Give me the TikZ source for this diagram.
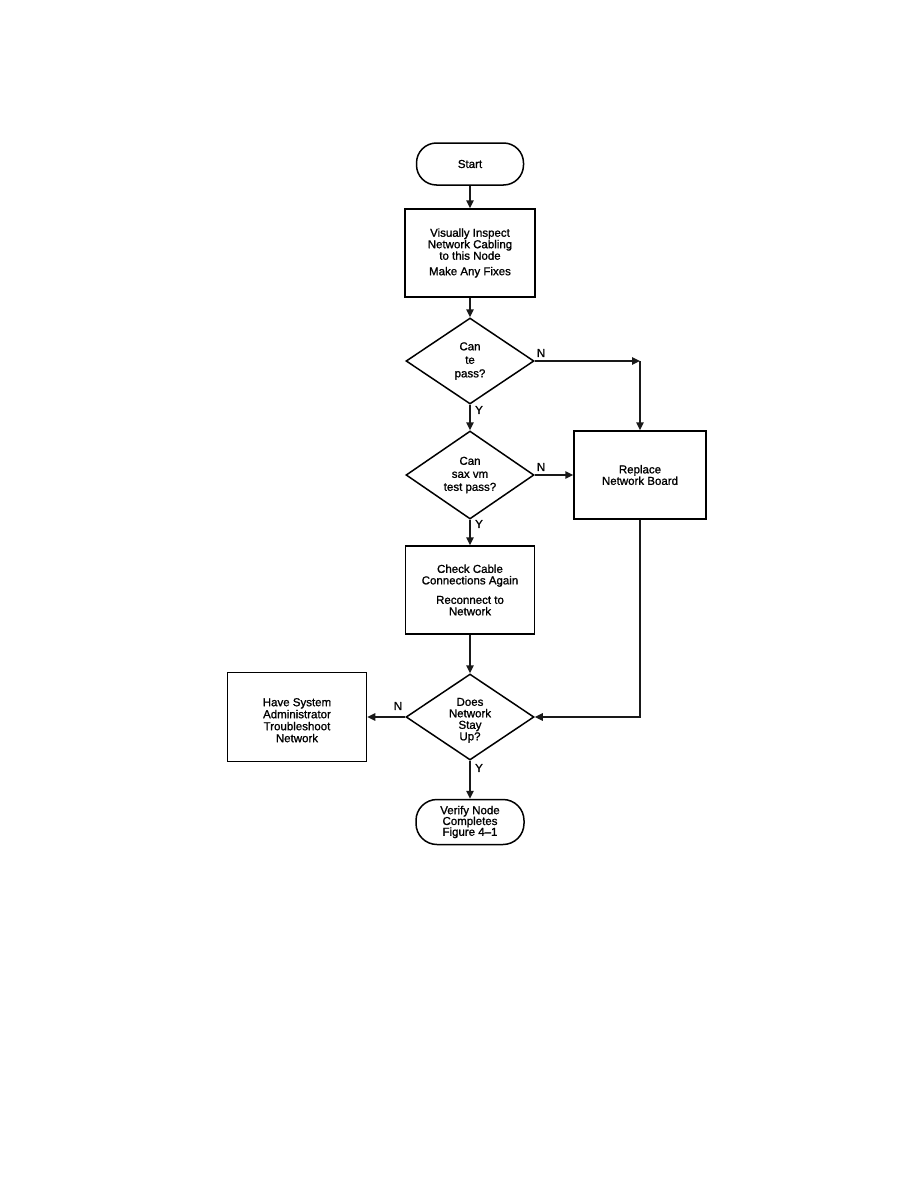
\documentclass[tikz,border=0pt]{standalone}
\usepackage{fontspec}
\setmainfont{Liberation Sans}[BoldFont={Liberation Sans},BoldFeatures={FakeBold=1.2}]
\usetikzlibrary{shapes.geometric,arrows.meta}
\newcommand{\pushdown}{\rule{0pt}{14.5pt}}
\begin{document}
\begin{tikzpicture}[x=1pt,y=-1pt,
  every node/.style={font=\fontsize{11.5}{11.5}\selectfont\bfseries, align=center},
  line/.style={line width=1.5pt, draw=black!90},
  arr/.style={line, -{Triangle[length=8pt,width=7.5pt]}},
  term/.style={draw, line width=1.5pt, rectangle, rounded corners=20pt, inner sep=0pt},
  proc/.style={draw, line width=1.5pt, rectangle, inner sep=0pt},
  dec/.style={draw, line width=1.5pt, diamond, aspect=1.5, inner sep=0pt},
  lbl/.style={font=\fontsize{11.5}{12}\selectfont\bfseries}]
\useasboundingbox (0,0) rectangle (918,1188);

\node[term, minimum width=107pt, minimum height=42pt] (start) at (470,164) {Start};
\node[proc, minimum width=130pt, minimum height=88pt] (inspect) at (470,253)
  {Visually Inspect\\Network Cabling\\to this Node\\[4pt]Make Any Fixes};
\node[dec, minimum width=128pt, minimum height=86pt, font=\fontsize{11.5}{13.5}\selectfont\bfseries] (d1) at (470,361) {Can\\te\\pass?};
\node[dec, minimum width=128pt, minimum height=88pt, font=\fontsize{11.5}{13}\selectfont\bfseries] (d2) at (470,475) {Can\\sax vm\\test pass?};
\node[proc, minimum width=132pt, minimum height=88pt] (replace) at (640,475)
  {Replace\\Network Board};
\node[proc, minimum width=129pt, minimum height=88pt] (check) at (470,590)
  {Check Cable\\Connections Again\\[8pt]Reconnect to\\Network};
\node[dec, minimum width=128pt, minimum height=86pt] (d3) at (470,717) {\pushdown Does\\Network\\Stay\\Up?};
\node[proc, minimum width=139pt, minimum height=89pt, font=\fontsize{11.5}{12}\selectfont\bfseries] (admin) at (297,717)
  {\pushdown Have System\\Administrator\\Troubleshoot\\Network};
\node[term, minimum width=108pt, minimum height=45pt, rounded corners=21pt, font=\fontsize{11.5}{10.8}\selectfont\bfseries] (verify) at (470,822)
  {Verify Node\\Completes\\Figure 4--1};

\coordinate (c1) at (640,361);

\draw[arr] (start.south) -- (inspect.north);
\draw[arr] (inspect.south) -- (d1.north);
\draw[arr] (d1.east) -- (c1);
\draw[arr] (c1) -- (replace.north);
\draw[arr] (d1.south) -- (d2.north);
\draw[arr] (d2.east) -- (replace.west);
\draw[arr] (d2.south) -- (check.north);
\draw[arr] (check.south) -- (d3.north);
\draw[arr] (replace.south) |- (d3.east);
\draw[arr] (d3.west) -- (admin.east);
\draw[arr] (d3.south) -- (verify.north);

\node[lbl] (n1) at (541,353) {N};
\node[lbl] (y1) at (479,410) {Y};
\node[lbl] (n2) at (541,467) {N};
\node[lbl] (y2) at (479,524) {Y};
\node[lbl] (n3) at (398,706) {N};
\node[lbl] (y3) at (479,768) {Y};
\end{tikzpicture}
\end{document}
